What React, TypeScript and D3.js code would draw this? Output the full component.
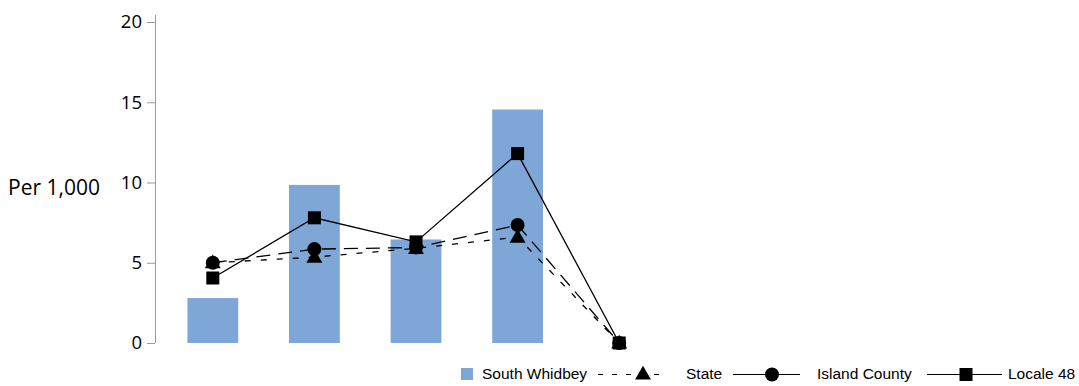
import React from "react";
import * as d3 from "d3";

const categories = ["A", "B", "C", "D", "E"];
const southWhidbey = [2.8, 9.85, 6.45, 14.55, 0];
const stateVals = [5.0, 5.35, 5.9, 6.6, 0];
const islandCounty = [5.0, 5.85, 5.95, 7.35, 0];
const locale48 = [4.05, 7.8, 6.3, 11.8, 0];
const yTicks = [0, 5, 10, 15, 20];

export default function App() {
  const W = 1079, H = 386;
  const x = d3.scaleBand<string>().domain(categories).range([162, 670]).paddingInner(0.5).paddingOuter(0.25);
  const y = d3.scaleLinear().domain([0, 20]).range([343, 22]);
  const cx = (c: string) => (x(c) as number) + x.bandwidth() / 2;
  const line = d3.line<number>().x((_, i) => cx(categories[i])).y((d) => y(d));
  const font = "'Open Sans', 'Noto Sans', sans-serif";
  const lfont = "'Liberation Sans', Arial, sans-serif";
  const tri = d3.symbol().type(d3.symbolTriangle).size(110)();
  return (
    <svg width={W} height={H} style={{ position: "absolute", left: 0, top: 0 }}>
      <rect width={W} height={H} fill="#fff" />
      <line x1={155.5} x2={155.5} y1={15} y2={343} stroke="#9a9a9a" strokeWidth={1} />
      {yTicks.map((t) => (
        <g key={t}>
          <line x1={147} x2={155} y1={y(t) + 0.5} y2={y(t) + 0.5} stroke="#9a9a9a" />
          <text x={142} y={y(t)} dy="0.35em" textAnchor="end" fontFamily={font} fontSize={18.5} fill="#000">{t}</text>
        </g>
      ))}
      <text x={8} y={188} dy="0.35em" fontFamily={font} fontSize={21} fill="#000">Per 1,000</text>
      {categories.map((c, i) => southWhidbey[i] > 0 ? (
        <rect key={c} x={x(c)} y={y(southWhidbey[i])} width={x.bandwidth()} height={y(0) - y(southWhidbey[i])} fill="#7ea7d8" />
      ) : null)}
      <path d={line(stateVals) || ""} fill="none" stroke="#000" strokeWidth={1.3} strokeDasharray="6,10" />
      <path d={line(islandCounty) || ""} fill="none" stroke="#000" strokeWidth={1.3} strokeDasharray="14,8" />
      <path d={line(locale48) || ""} fill="none" stroke="#000" strokeWidth={1.3} />
      {stateVals.map((v, i) => (
        <path key={"s" + i} d={tri || ""} transform={`translate(${cx(categories[i])},${y(v) + 1})`} fill="#000" />
      ))}
      {islandCounty.map((v, i) => (
        <circle key={"c" + i} cx={cx(categories[i])} cy={y(v)} r={7} fill="#000" />
      ))}
      {locale48.map((v, i) => (
        <rect key={"l" + i} x={cx(categories[i]) - 6.5} y={y(v) - 6.5} width={13} height={13} fill="#000" />
      ))}
      <g fontFamily={lfont} fontSize={15.5} fill="#000">
        <rect x={461} y={368} width={12} height={12} fill="#7ea7d8" />
        <text x={482} y={374} dy="0.35em">South Whidbey</text>
        <line x1={598} x2={668} y1={374.5} y2={374.5} stroke="#000" strokeWidth={1.2} strokeDasharray="5,9" />
        <path d={tri || ""} transform="translate(643,375)" fill="#000" />
        <text x={686} y={374} dy="0.35em">State</text>
        <line x1={733} x2={800} y1={374.5} y2={374.5} stroke="#000" strokeWidth={1.2} />
        <circle cx={772} cy={374.5} r={7} fill="#000" />
        <text x={817} y={374} dy="0.35em">Island County</text>
        <line x1={927} x2={1002} y1={374.5} y2={374.5} stroke="#000" strokeWidth={1.2} />
        <rect x={959.5} y={368} width={13} height={13} fill="#000" />
        <text x={1008} y={374} dy="0.35em">Locale 48</text>
      </g>
    </svg>
  );
}
